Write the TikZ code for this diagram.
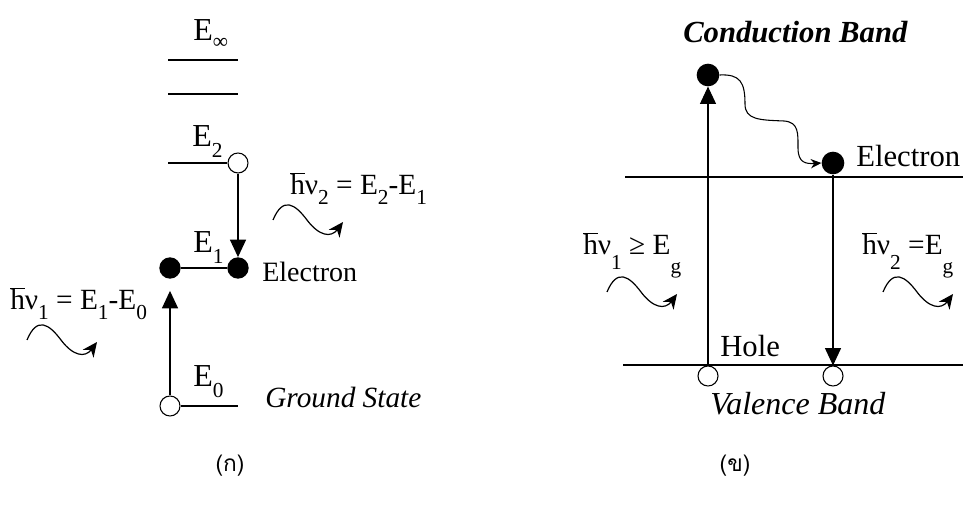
\documentclass[tikz,border=0pt]{standalone}
\usepackage{fontspec}
\setmainfont{Liberation Serif}
\newfontfamily\thaifont[Script=Thai]{Loma}
\usepackage{tikz}
\usetikzlibrary{arrows.meta, positioning}

\newcommand\lowsub[2][0.7ex]{\raisebox{-#1}{\fontsize{16}{16}\selectfont #2}}
\newcommand\hbr{$\overline{\mbox{h}}$}

\tikzset{
  level/.style={line width=0.8pt},
  filleddot/.style={circle, fill=black, inner sep=0, minimum size=16pt},
  opendot/.style={circle, draw, fill=white, line width=0.8pt, inner sep=0, minimum size=15pt},
  jump/.style={line width=0.8pt, -{Triangle[length=13pt, width=12pt]}},
  lbl/.style={font=\fontsize{21}{24}\selectfont, anchor=base west, inner sep=0},
  elbl/.style={font=\fontsize{24}{28}\selectfont, anchor=base west, inner sep=0},
  eqn/.style={font=\fontsize{22}{26}\selectfont, anchor=base west, inner sep=0},
  photon/.pic={\draw[line width=0.9pt, -{Stealth[length=11pt, width=10pt, inset=3.5pt]}]
    (0,0) .. controls (10,-24) and (22,-16) .. (34,0) .. controls (46,16) and (58,18) .. (70,2);},
}

\begin{document}
\begin{tikzpicture}[x=0.75pt, y=-0.75pt]
  \useasboundingbox (0,0) rectangle (963,505);

  % (a) atom levels
  \node[elbl] (einf) at (193,41) {E\lowsub[0.5ex]{∞}};
  \draw[level] (168,60) -- (238,60);
  \draw[level] (168,94) -- (238,94);
  \node[opendot] (e2) at (238,163) {};
  \draw[level] (168,163) -- (e2.west);
  \node[elbl] (le2) at (192,147) {E\lowsub{2}};
  \node[filleddot] (e1a) at (170,268) {};
  \node[filleddot] (e1b) at (238,268) {};
  \draw[level] (e1a) -- (e1b);
  \node[elbl] (le1) at (193,253) {E\lowsub{1}};
  \node[opendot] (e0) at (170,406) {};
  \draw[level] (e0.east) -- (238,406);
  \node[elbl] (le0) at (193,387) {E\lowsub{0}};
  \draw[jump] (e2.south) -- (e1b.north);
  \draw[jump, shorten >=9pt] (e0.north) -- (e1a.south);
  \node[lbl] (elec1) at (262,282) {Electron};
  \node[lbl, font=\fontsize{22}{26}\selectfont\itshape] (ground) at (265,408) {Ground State};
  \node[eqn] (nu2) at (290,195) {\hbr ν\lowsub{2} = E\lowsub{2}-E\lowsub{1}};
  \node[eqn] (nu1) at (10,310) {\hbr ν\lowsub{1} = E\lowsub{1}-E\lowsub{0}};
  \pic at (273,220) {photon};
  \pic at (27,340) {photon};

  % (b) semiconductor bands
  \node[lbl, font=\fontsize{23}{26}\selectfont\bfseries\itshape] (cband) at (683,43) {Conduction Band};
  \draw[level] (625,177) -- (963,177);
  \draw[level] (623,365) -- (963,365);
  \node[filleddot, minimum size=17pt] (top) at (708,75) {};
  \node[filleddot, minimum size=17pt] (cb) at (833,163) {};
  \node[opendot] (h1) at (708,376) {};
  \node[opendot] (h2) at (833,376) {};
  \draw[jump] (h1.north) -- (top.south);
  \draw[jump] (cb.south) -- (h2.north);
  \draw[line width=0.8pt, -{Stealth[length=8pt, width=7pt]}] (top.east)
    .. controls (740,74) and (745,82) .. (745,104)
    .. controls (745,120) and (760,120) .. (784,121)
    .. controls (799,122) and (798,134) .. (798,148)
    .. controls (798,163) and (806,164) .. (cb.west);
  \node[lbl, font=\fontsize{23}{26}\selectfont] (elec2) at (856,167) {Electron};
  \node[lbl, font=\fontsize{23}{26}\selectfont] (hole) at (720,357) {Hole};
  \node[lbl, font=\fontsize{24}{28}\selectfont\itshape] (vband) at (710,415) {Valence Band};
  \node[eqn] (gap1) at (583,255) {\hbr ν\lowsub[1.1ex]{1} ≥ E\lowsub[1.4ex]{g}};
  \node[eqn] (gap2) at (862,255) {\hbr ν\lowsub[1.1ex]{2} =E\lowsub[1.4ex]{g}};
  \pic at (607,292) {photon};
  \pic at (883,292) {photon};

  \node[font=\thaifont\fontsize{17}{20}\selectfont] (capa) at (230,466) {(ก)};
  \node[font=\thaifont\fontsize{17}{20}\selectfont] (capb) at (735,466) {(ข)};
\end{tikzpicture}
\end{document}
